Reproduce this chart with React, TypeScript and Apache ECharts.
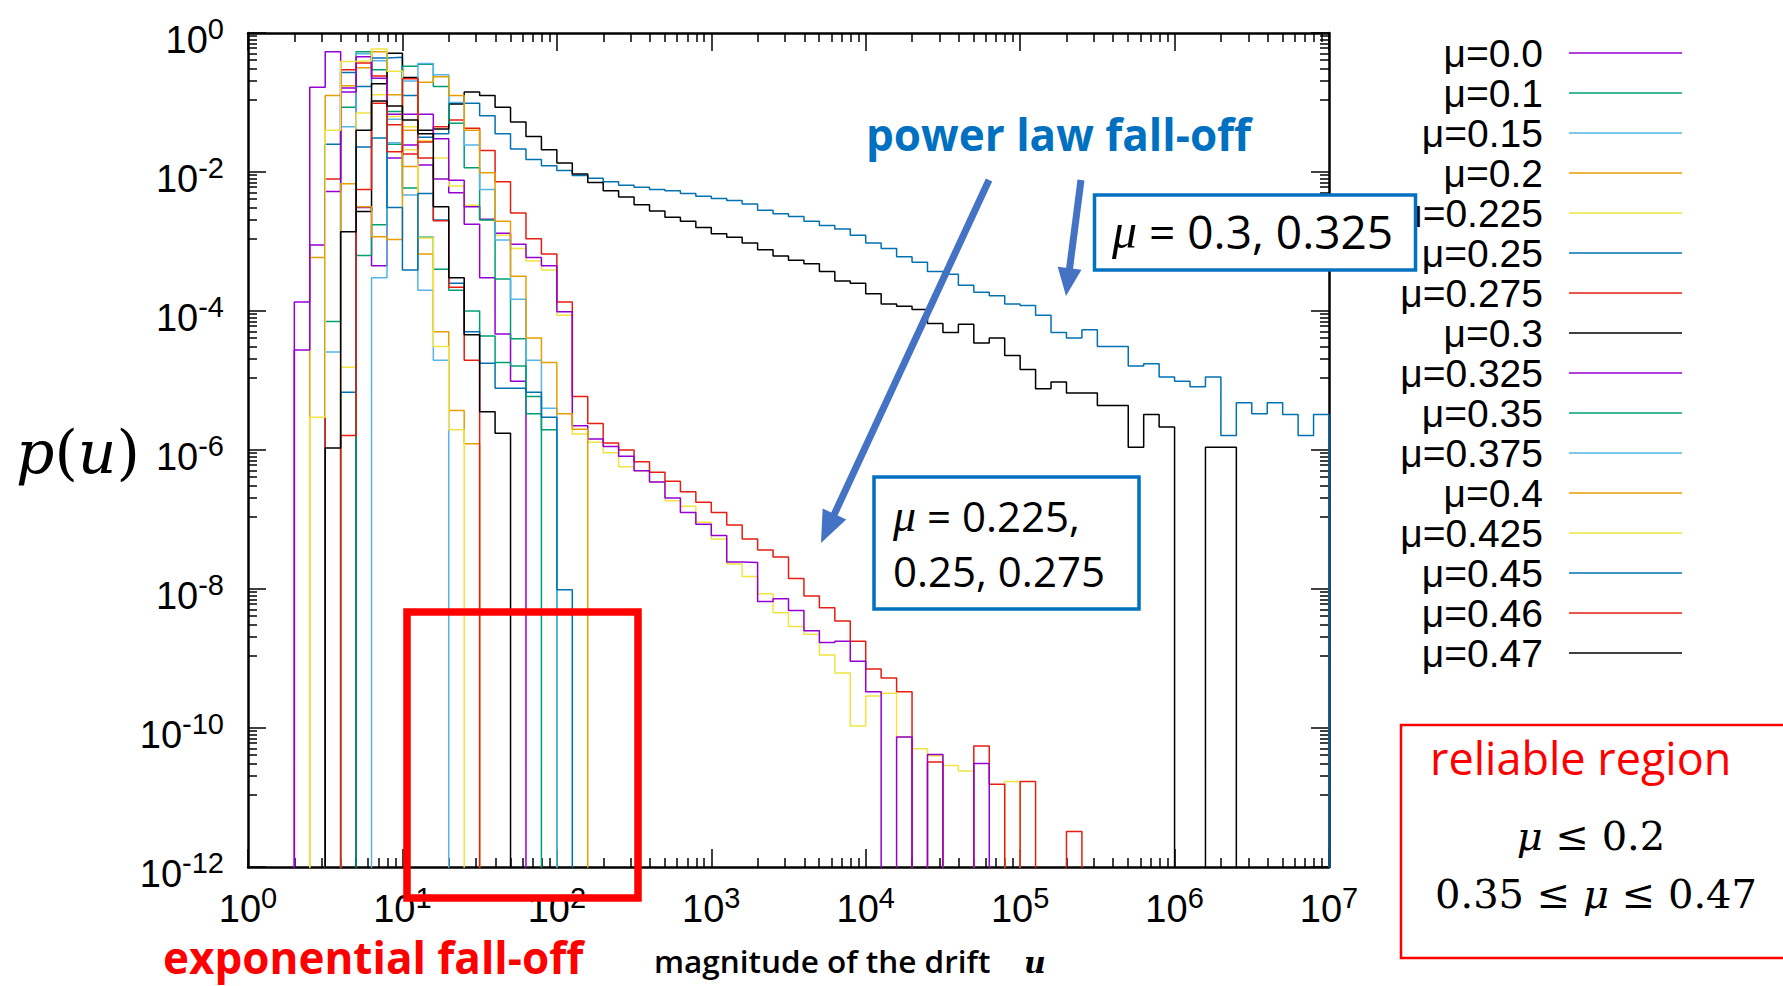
import React, { useEffect, useRef } from 'react';
import * as echarts from 'echarts';

// Histogram bins are uniform in log10(u): bin k spans log10 u in [k/10, (k+1)/10].
// Every array below holds log10 p(u) per bin, starting at the series' first bin; null = empty bin.

const muLabels = [
  'μ=0.0', 'μ=0.1', 'μ=0.15', 'μ=0.2', 'μ=0.225', 'μ=0.25', 'μ=0.275', 'μ=0.3',
  'μ=0.325', 'μ=0.35', 'μ=0.375', 'μ=0.4', 'μ=0.425', 'μ=0.45', 'μ=0.46', 'μ=0.47',
];

const muColors = [
  '#9400d3', '#009e73', '#56b4e9', '#e69f00', '#f0e442', '#0072b2', '#e51e10', '#000000',
  '#9400d3', '#009e73', '#56b4e9', '#e69f00', '#f0e442', '#0072b2', '#e51e10', '#000000',
];

const firstBin = [3, 5, 5, 4, 6, 5, 5, 7, 3, 7, 8, 6, 4, 6, 6, 5];

const logP_mu000 = [-3.87, -0.78, -0.27, -0.79, -2.51, -3.35, -1.80, -1.61, -1.90, -2.10, -2.30, -2.75, -3.52, -4.33, -5.01];

const logP_mu010 = [-4.15, -1.07, -0.27, -0.53, -1.60, -2.23, -2.94, -3.40, -3.70, -4.00, -4.36, -4.74, -4.79, -5.48, -5.71];

const logP_mu015 = [-4.59, -1.35, -0.30, -0.40, -1.24, -2.33, -3.70, -4.71];

const logP_mu020 = [-3.23, -0.90, -0.76, -0.50, -0.27, -0.89, -1.92, -3.18, -4.30, -5.43, -5.91];

const logP_mu0225 = [
  -4.81, -1.15, -0.89, -1.20, -1.35, -1.55, -1.80, -2.20, -2.48, -2.69, -2.91, -3.10, -3.28, -3.41,
  -4.06, -5.77, -5.89, -6.04, -6.24, -6.30, -6.46, -6.73, -6.81, -7.04, -7.28, -7.64, -7.82, -8.07,
  -8.34, -8.54, -8.65, -8.95, -9.21, -9.97, -9.54, -9.50, -10.13, -10.30, -10.40, -10.54, -10.62,
  null, null, -10.77,
];

const logP_mu025 = [
  -1.60, -0.57, -0.77, -0.36, -0.35, -0.90, -1.50, -1.45, -1.01, -1.01, -1.19, -1.45, -1.67, -1.82,
  -1.91, -1.98, -2.05, -2.09, -2.14, -2.19, -2.22, -2.25, -2.27, -2.31, -2.35, -2.38, -2.41, -2.46,
  -2.55, -2.60, -2.64, -2.71, -2.77, -2.82, -2.91, -3.02, -3.10, -3.22, -3.30, -3.43, -3.47, -3.63,
  -3.73, -3.78, -3.90, -3.92, -4.06, -4.31, -4.39, -4.27, -4.51, -4.51, -4.79, -4.76, -4.95, -5.01,
  -5.09, -4.95, -5.79, -5.32, -5.48, -5.32, -5.49, -5.79, -5.49,
];

const logP_mu0275 = [
  -2.10, -0.53, -0.43, -0.62, -1.32, -1.74, -1.57, -1.35, -1.25, -1.37, -1.69, -2.14, -2.59, -2.96,
  -3.18, -3.87, -5.23, -5.62, -5.90, -6.00, -6.17, -6.32, -6.45, -6.60, -6.75, -6.90, -7.08, -7.28,
  -7.44, -7.54, -7.85, -8.10, -8.27, -8.46, -8.75, -9.15, -9.28, -9.48, null, -10.49, null, null,
  -10.26, -10.81, null, -10.77, null, null, -11.49,
];

const logP_mu030 = [
  -2.57, -0.73, -0.29, -0.64, -1.40, -1.38, -1.02, -0.85, -0.90, -1.07, -1.28, -1.49, -1.68, -1.87,
  -2.03, -2.15, -2.27, -2.36, -2.47, -2.56, -2.65, -2.71, -2.80, -2.89, -2.94, -3.02, -3.12, -3.21,
  -3.27, -3.32, -3.43, -3.57, -3.60, -3.75, -3.90, -3.93, -3.98, -4.18, -4.31, -4.19, -4.46, -4.39,
  -4.64, -4.84, -5.12, -5.02, -5.18, -5.18, -5.36, -5.36, -5.96, -5.49, -5.67, null, null, -5.96,
  -5.96,
];

const logP_mu0325 = [
  -4.56, -3.05, -2.28, -0.85, -0.34, -0.65, -1.17, -1.17, -1.17, -1.52, -2.12, -2.50, -2.68, -2.88,
  -3.04, -3.23, -3.35, -4.01, -5.65, -5.84, -5.95, -6.09, -6.30, -6.46, -6.69, -6.90, -7.07, -7.23,
  -7.61, -7.62, -8.18, -8.14, -8.31, -8.60, -8.77, -8.75, -9.04, -9.48, null, -10.13, null, -10.38,
  null, null, -10.51,
];

const logP_mu035 = [-3.20, -2.76, -1.13, -0.48, -0.45, -0.77, -1.30, -1.94, -2.69, -3.54, -4.40, -5.23];

const logP_mu0375 = [-3.52, -1.58, -0.69, -0.44, -0.60, -1.00, -1.61, -2.25, -2.98, -3.83, -4.71, -5.40];

const logP_mu040 = [-2.17, -2.50, -2.93, -2.97, -1.40, -0.71, -0.63, -0.90, -1.40, -2.01, -2.71, -3.50, -4.39, -4.74, -5.48, -5.70];

const logP_mu0425 = [-5.53, -1.40, -0.41, -0.40, -0.23, -0.55, -1.68, -2.95, -4.51, -5.71];

const logP_mu045 = [-5.17, -1.64, -1.51, -2.51, -3.41, -2.31, -2.69, -3.60, -4.30, -4.75, -5.11, -5.11, -5.17, -5.53, -8.01];

const logP_mu046 = [-5.79, -2.25, -1.01, -1.71, -0.66, -1.80, -2.70, -3.66, -4.71];

const logP_mu047 = [-5.97, -2.86, -1.40, -0.98, -1.05, -1.25, -1.45, -2.50, -3.52, -4.34, -5.45, -5.76];

const seriesValues = [
  logP_mu000, logP_mu010, logP_mu015, logP_mu020, logP_mu0225, logP_mu025, logP_mu0275, logP_mu030,
  logP_mu0325, logP_mu035, logP_mu0375, logP_mu040, logP_mu0425, logP_mu045, logP_mu046, logP_mu047,
];

// axis ranges in decades
const X_MIN = 0;
const X_MAX = 7;
const Y_MIN = -12;
const Y_MAX = 0;

const FONT_SANS = 'Liberation Sans, Arial, sans-serif';

// Outline of a histogram: steps across each filled bin, dropping below the frame
// wherever the histogram starts, stops or has an empty bin.
function histogramOutline(start: number, values: (number | null)[]) {
  const below = Y_MIN - 1;
  const pts: number[][] = [];
  let open = false;
  values.forEach((v, i) => {
    const x0 = (start + i) / 10;
    const x1 = (start + i + 1) / 10;
    if (v === null) {
      if (open) {
        pts.push([x0, below]);
        open = false;
      }
      return;
    }
    if (!open) {
      pts.push([x0, below]);
      open = true;
    }
    pts.push([x0, v], [x1, v]);
  });
  if (open) pts.push([(start + values.length) / 10, below]);
  return pts;
}

// minor ticks: 2..9 within every decade of u
const xMinorTicks: number[] = [];
for (let d = X_MIN; d < X_MAX; d++) {
  for (let m = 2; m <= 9; m++) xMinorTicks.push(d + Math.log10(m));
}
// minor ticks on p: ten linear steps inside each two-decade interval
const yMinorTicks: number[] = [];
for (let top = Y_MAX; top > Y_MIN; top -= 2) {
  for (let j = 1; j <= 9; j++) yMinorTicks.push(top - 2 + Math.log10(1 + 9.9 * j));
}

const powerRich = {
  b: { fontFamily: FONT_SANS, fontSize: 38, lineHeight: 38, padding: [14, 0, 0, 0], color: '#000' },
  s: { fontFamily: FONT_SANS, fontSize: 29, lineHeight: 29, verticalAlign: 'top', color: '#000' },
};

function arrow(x1: number, y1: number, x2: number, y2: number, headLen: number, headHalf: number) {
  const dx = x2 - x1;
  const dy = y2 - y1;
  const len = Math.hypot(dx, dy);
  const ux = dx / len;
  const uy = dy / len;
  const bx = x2 - ux * headLen;
  const by = y2 - uy * headLen;
  const nx = -uy;
  const ny = ux;
  const color = '#4472c4';
  return [
    {
      type: 'line',
      shape: { x1, y1, x2: bx + ux * 2, y2: by + uy * 2 },
      style: { stroke: color, lineWidth: 7 },
      z: 50,
    },
    {
      type: 'polygon',
      shape: {
        points: [
          [x2, y2],
          [bx + nx * headHalf, by + ny * headHalf],
          [bx - nx * headHalf, by - ny * headHalf],
        ],
      },
      style: { fill: color },
      z: 50,
    },
  ];
}

function textEl(x: number, y: number, text: string, style: Record<string, unknown>, align = 'left') {
  return {
    type: 'text',
    x,
    y,
    z: 60,
    style: {
      text,
      align,
      textAlign: align,
      verticalAlign: 'middle',
      textVerticalAlign: 'middle',
      ...style,
    },
  };
}

export default function App() {
  const ref = useRef<HTMLDivElement>(null);

  useEffect(() => {
    if (!ref.current) return;
    const chart = echarts.init(ref.current, undefined, { renderer: 'svg' });

    const series = muLabels.map((name, i) => ({
      type: 'line',
      name,
      xAxisIndex: 0,
      yAxisIndex: 0,
      data: histogramOutline(firstBin[i], seriesValues[i]),
      symbol: 'none',
      showSymbol: false,
      clip: true,
      silent: true,
      color: muColors[i],
      lineStyle: { color: muColors[i], width: 1.5 },
    }));

    const axisLine = { show: true, onZero: false, lineStyle: { color: '#000', width: 2.5 } };
    const majorTick = { show: true, inside: true, length: 18, lineStyle: { color: '#000', width: 1.5 } };
    const noLine = { show: false, onZero: false };
    const minorTick = (values: number[]) => ({
      show: true,
      inside: true,
      length: 9,
      customValues: values,
      lineStyle: { color: '#000', width: 1.5 },
    });

    const xBase = { type: 'value', min: X_MIN, max: X_MAX, interval: 1, splitLine: { show: false } };
    const yBase = { type: 'value', min: Y_MIN, max: Y_MAX, interval: 2, splitLine: { show: false } };

    chart.setOption({
      animation: false,
      backgroundColor: '#fff',
      grid: { left: 248, top: 33, width: 1081, height: 834, containLabel: false },
      xAxis: [
        {
          ...xBase,
          position: 'bottom',
          axisLine,
          axisTick: majorTick,
          axisLabel: {
            margin: 16,
            formatter: (v: number) => `{b|10}{s|${v}}`,
            rich: powerRich,
          },
        },
        { ...xBase, position: 'top', axisLine, axisTick: majorTick, axisLabel: { show: false } },
        { ...xBase, position: 'bottom', axisLine: noLine, axisTick: minorTick(xMinorTicks), axisLabel: { show: false } },
        { ...xBase, position: 'top', axisLine: noLine, axisTick: minorTick(xMinorTicks), axisLabel: { show: false } },
      ],
      yAxis: [
        {
          ...yBase,
          position: 'left',
          axisLine,
          axisTick: majorTick,
          axisLabel: {
            margin: 24,
            formatter: (v: number) => `{b|10}{s|${v}}`,
            rich: powerRich,
          },
        },
        { ...yBase, position: 'right', axisLine, axisTick: majorTick, axisLabel: { show: false } },
        { ...yBase, position: 'left', axisLine: noLine, axisTick: minorTick(yMinorTicks), axisLabel: { show: false } },
        { ...yBase, position: 'right', axisLine: noLine, axisTick: minorTick(yMinorTicks), axisLabel: { show: false } },
      ],
      legend: {
        orient: 'vertical',
        right: 101,
        top: 33,
        padding: 0,
        align: 'right',
        icon: 'rect',
        itemWidth: 113,
        itemHeight: 1.6,
        itemGap: 0,
        selectedMode: false,
        data: muLabels,
        textStyle: {
          fontFamily: FONT_SANS,
          fontSize: 39,
          lineHeight: 40,
          color: '#000',
          padding: [0, 21, 0, 0],
        },
      },
      series,
      graphic: [
        // y-axis title
        {
          type: 'text',
          x: 16,
          y: 452,
          z: 60,
          style: {
            text: '{i|p}{n|(}{i|u}{n|)}',
            verticalAlign: 'middle',
            textVerticalAlign: 'middle',
            rich: {
              i: { fontFamily: 'DejaVu Serif', fontStyle: 'italic', fontSize: 60, fill: '#000' },
              n: { fontFamily: 'DejaVu Serif', fontSize: 60, fill: '#000' },
            },
          },
        },
        // x-axis title
        textEl(654, 960, 'magnitude of the drift', {
          fontFamily: 'Open Sans', fontWeight: 600, fontSize: 31.5, lineHeight: 33, fill: '#000',
        }),
        textEl(1024, 962, 'u', {
          fontFamily: 'DejaVu Serif', fontStyle: 'italic', fontWeight: 'bold', fontSize: 30, lineHeight: 32, fill: '#000',
        }),
        // exponential fall-off region
        {
          type: 'rect',
          z: 55,
          shape: { x: 407, y: 612, width: 231, height: 286 },
          style: { fill: 'none', stroke: '#ff0000', lineWidth: 7.5 },
        },
        textEl(163, 957, 'exponential fall-off', {
          fontFamily: 'Open Sans', fontWeight: 'bold', fontSize: 44, lineHeight: 46, fill: '#ff0000',
        }),
        // power law annotation
        textEl(866, 134, 'power law fall-off', {
          fontFamily: 'Open Sans', fontWeight: 'bold', fontSize: 44, fill: '#0070c0',
        }),
        ...arrow(989, 180, 821, 543, 32, 13),
        ...arrow(1081, 180, 1066, 296, 28, 12),
        {
          type: 'rect',
          z: 55,
          shape: { x: 1094.5, y: 195, width: 321, height: 75 },
          style: { fill: '#fff', stroke: '#0070c0', lineWidth: 3.5 },
        },
        {
          type: 'text',
          x: 1112,
          y: 231,
          z: 60,
          style: {
            text: '{m|μ}{t| = 0.3, 0.325}',
            verticalAlign: 'middle',
            textVerticalAlign: 'middle',
            rich: {
              m: { fontFamily: 'Liberation Serif', fontStyle: 'italic', fontSize: 50, fill: '#000' },
              t: { fontFamily: 'Open Sans', fontSize: 46, fill: '#000' },
            },
          },
        },
        {
          type: 'rect',
          z: 55,
          shape: { x: 874, y: 477, width: 265, height: 132 },
          style: { fill: '#fff', stroke: '#0070c0', lineWidth: 3.5 },
        },
        {
          type: 'text',
          x: 893,
          y: 515,
          z: 60,
          style: {
            text: '{m|μ}{t| = 0.225,}',
            verticalAlign: 'middle',
            textVerticalAlign: 'middle',
            rich: {
              m: { fontFamily: 'Liberation Serif', fontStyle: 'italic', fontSize: 46, fill: '#000' },
              t: { fontFamily: 'Open Sans', fontSize: 42, fill: '#000' },
            },
          },
        },
        textEl(893, 570, '0.25, 0.275', { fontFamily: 'Open Sans', fontSize: 42, fill: '#000' }),
        // reliable region note
        {
          type: 'rect',
          z: 55,
          shape: { x: 1401, y: 725, width: 400, height: 233 },
          style: { fill: 'none', stroke: '#ff0000', lineWidth: 2.5 },
        },
        textEl(1430, 757, 'reliable region', { fontFamily: 'Open Sans', fontSize: 45, fill: '#ff0000' }),
        {
          type: 'text',
          x: 1591,
          y: 836,
          z: 60,
          style: {
            text: '{m|μ}{t| ≤ 0.2}',
            align: 'center',
            textAlign: 'center',
            verticalAlign: 'middle',
            textVerticalAlign: 'middle',
            rich: {
              m: { fontFamily: 'DejaVu Serif', fontStyle: 'italic', fontSize: 40, fill: '#000' },
              t: { fontFamily: 'DejaVu Serif', fontSize: 40, fill: '#000' },
            },
          },
        },
        {
          type: 'text',
          x: 1596,
          y: 894,
          z: 60,
          style: {
            text: '{t|0.35 ≤ }{m|μ}{t| ≤ 0.47}',
            align: 'center',
            textAlign: 'center',
            verticalAlign: 'middle',
            textVerticalAlign: 'middle',
            rich: {
              m: { fontFamily: 'DejaVu Serif', fontStyle: 'italic', fontSize: 40, fill: '#000' },
              t: { fontFamily: 'DejaVu Serif', fontSize: 40, fill: '#000' },
            },
          },
        },
      ],
    });

    return () => chart.dispose();
  }, []);

  return (
    <div
      ref={ref}
      style={{ position: 'absolute', left: 0, top: 0, width: 1783, height: 986, background: '#fff' }}
    />
  );
}
